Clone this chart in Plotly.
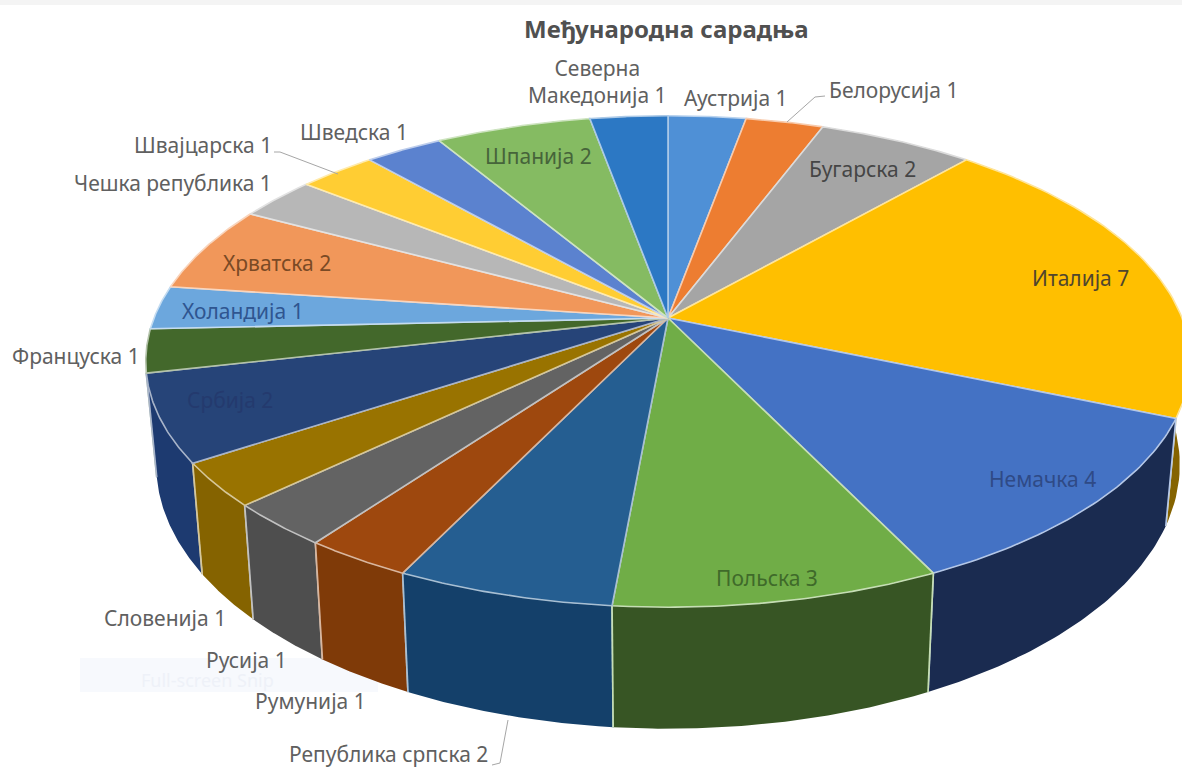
import numpy as np
import plotly.graph_objects as go

COUNTRIES = ["Аустрија", "Белорусија", "Бугарска", "Италија", "Немачка", "Польска",
             "Република српска", "Румунија", "Русија", "Словенија", "Србија", "Француска",
             "Холандија", "Хрватска", "Чешка република", "Швајцарска", "Шведска", "Шпанија",
             "Северна Македонија"]
VALUES = [1, 1, 2, 7, 4, 3, 2, 1, 1, 1, 2, 1, 1, 2, 1, 1, 1, 2, 1]

TOP_COLORS = ["#4F90D6", "#ED7D31", "#A5A5A5", "#FFBF00", "#4472C4", "#70AD47",
              "#255E91", "#9E480E", "#636363", "#997300", "#264478", "#43682B",
              "#6CA7DD", "#F1975A", "#B7B7B7", "#FFCD33", "#5B82CF", "#85BB62", "#2C78C4"]
WALL_COLORS = ["#2D5680", "#8E4B1D", "#636363", "#856300", "#1A2B50", "#375524",
               "#14406A", "#7F3A08", "#4E4E4E", "#856300", "#1D3A70", "#2A4119",
               "#41647F", "#915A36", "#6E6E6E", "#997B1F", "#36507C", "#50703B", "#1B4876"]

# index of the slice -> centre of its label on the page
LABEL_POS = {
    0: (736, 98), 1: (893, 90), 2: (862, 169), 3: (1080, 278), 4: (1042, 479), 5: (767, 578),
    6: (388, 754), 7: (310, 701), 8: (246, 660), 9: (165, 618), 10: (230, 400), 11: (76, 356),
    12: (243, 311), 13: (277, 263), 14: (173, 183), 15: (203, 145), 16: (354, 132), 17: (538, 156),
    18: (597, 81),
}
LABEL_COL = {2: "#454545", 3: "#50462E", 4: "#2F4A86", 5: "#3F6A2A", 10: "#243A6E", 12: "#2F5590",
             13: "#7A4A25", 17: "#46643A"}

TITLE = "Међународна сарадња"
FONT = "'Noto Sans', sans-serif"

# perspective projection of the unit disc onto the page
CX, CY, A, B, K, DEPTH, SHRINK = 668, 318, 514, 238, 0.177, 100, 0.98


def project(theta, lower=False):
    u, v = np.sin(theta), np.cos(theta)
    w = 1 + K * v
    x = A * u / w
    y = B * v / w
    if lower:
        return CX + SHRINK * x, CY - y + DEPTH / w
    return CX + x, CY - y


def mix(hex_col, t):
    r, g, b = (int(hex_col[i:i + 2], 16) for i in (1, 3, 5))
    return f"rgb({r + (255 - r) * t:.0f},{g + (255 - g) * t:.0f},{b + (255 - b) * t:.0f})"


edges = np.cumsum([0] + VALUES) / sum(VALUES) * 2 * np.pi
arcs = [np.linspace(edges[i], edges[i + 1], 60) for i in range(len(VALUES))]

fig = go.Figure()

order = sorted(range(len(VALUES)), key=lambda i: np.cos((edges[i] + edges[i + 1]) / 2), reverse=True)
for i in order:
    tx, ty = project(arcs[i])
    bx, by = project(arcs[i], lower=True)
    fig.add_trace(go.Scatter(x=np.r_[tx, bx[::-1]], y=np.r_[ty, by[::-1]], mode="lines",
                             fill="toself", fillcolor=WALL_COLORS[i], line=dict(width=0),
                             name=COUNTRIES[i], hoverinfo="skip", showlegend=False))
    fig.add_trace(go.Scatter(x=[tx[0], bx[0], None, tx[-1], bx[-1]], y=[ty[0], by[0], None, ty[-1], by[-1]],
                             mode="lines", line=dict(width=1.7, color=mix(TOP_COLORS[i], 0.6)),
                             hoverinfo="skip", showlegend=False))

for i in range(len(VALUES)):
    tx, ty = project(arcs[i])
    fig.add_trace(go.Scatter(x=np.r_[CX, tx, CX], y=np.r_[CY, ty, CY], mode="lines",
                             fill="toself", fillcolor=TOP_COLORS[i],
                             line=dict(width=1.6, color=mix(TOP_COLORS[i], 0.6)),
                             name=COUNTRIES[i], text=f"{COUNTRIES[i]} {VALUES[i]}", hoverinfo="text",
                             hoveron="fills", showlegend=False))

annotations = [dict(x=666, y=28, text=f"<b>{TITLE}</b>", showarrow=False, xref="x", yref="y",
                    font=dict(family=FONT, size=24, color="#505050"))]
annotations.append(dict(x=207, y=680, text="Full-screen Snip", showarrow=False, xref="x", yref="y",
                        font=dict(family=FONT, size=18, color="#EEF1F8")))
for i, name in enumerate(COUNTRIES):
    text = f"{name} {VALUES[i]}"
    if name == "Северна Македонија":
        text = f"Северна<br>Македонија {VALUES[i]}"
    x, y = LABEL_POS[i]
    annotations.append(dict(x=x, y=y, text=text, showarrow=False, xref="x", yref="y",
                            font=dict(family=FONT, size=21, color=LABEL_COL.get(i, "#606060"))))

shapes = [
    dict(type="rect", x0=0, x1=1182, y0=0, y1=5, fillcolor="#F4F4F4", line=dict(width=0), layer="below"),
    dict(type="rect", x0=80, x1=378, y0=658, y1=692, fillcolor="#F7F9FD", line=dict(width=0), layer="below"),
]
LEADERS = [
    [(787, 122), (815, 97), (825, 96)],
    [(338, 174), (280, 152), (274, 152)],
    [(508, 720), (500, 763), (492, 765)],
]
for pts in LEADERS:
    path = "M " + " L ".join(f"{a},{b}" for a, b in pts)
    shapes.append(dict(type="path", path=path, line=dict(color="#A6A6A6", width=1)))

fig.update_layout(
    width=1182, height=769, margin=dict(l=0, r=0, t=0, b=0),
    paper_bgcolor="white", plot_bgcolor="white", showlegend=False,
    xaxis=dict(range=[0, 1182], visible=False, fixedrange=True),
    yaxis=dict(range=[769, 0], visible=False, fixedrange=True),
    annotations=annotations, shapes=shapes,
)
fig.write_html("out.html", config=dict(displayModeBar=False),
               post_script="document.body.style.margin='0';")
